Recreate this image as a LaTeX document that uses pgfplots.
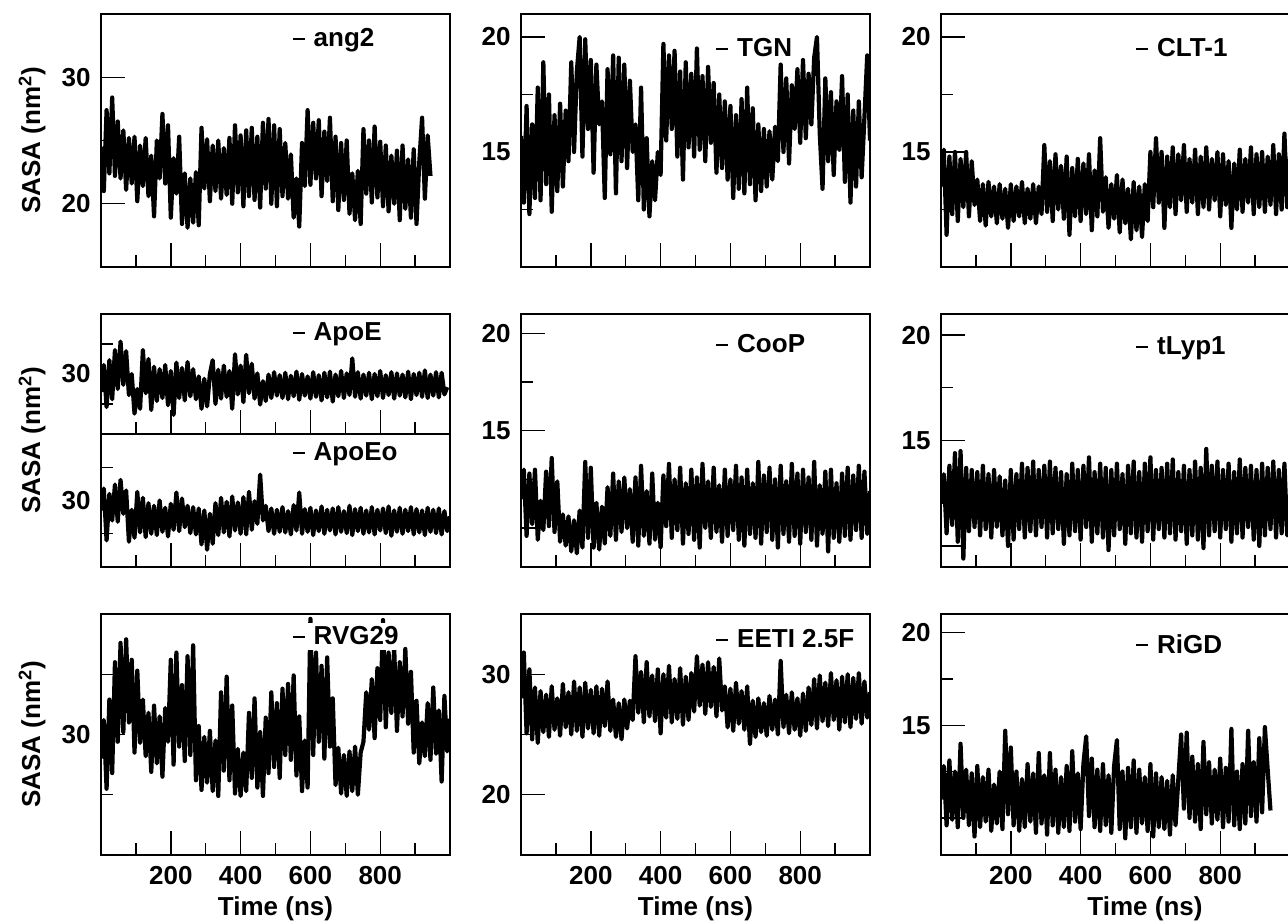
\documentclass[border=0pt]{standalone}
\usepackage{fontspec}
\setmainfont{Liberation Sans}
\usepackage{pgfplots}
\pgfplotsset{compat=1.18}

\newcommand{\lbl}{\bfseries\fontsize{13}{14}\selectfont}

\pgfplotsset{
  sasa/.style={
    scale only axis, width=174.5pt, anchor=north west,
    xmin=0, xmax=1000,
    xtick={200,400,600,800}, minor xtick={100,300,500,700,900},
    tick pos=left, tick align=inside,
    major tick length=12pt, minor tick length=6pt,
    every tick/.style={black, line width=0.7pt},
    axis line style={line width=1pt},
    /pgf/number format/assume math mode=true,
    tick label style={font=\lbl},
    yticklabel style={xshift=-1.7pt},
    xticklabel style={yshift=-2pt},
    legend style={anchor=west, draw=none, fill=white, font=\lbl,
      inner xsep=0pt, inner ysep=0pt, nodes={inner sep=1.5pt}},
    legend image code/.code={\draw[line width=1pt] (0pt,0pt) -- (6pt,0pt); \path (8pt,0pt);},
  },
  trace/.style={black, line width=2.1pt, line join=round, mark=none},
}

\begin{document}
\begin{tikzpicture}
\useasboundingbox (0pt,0pt) rectangle (644pt,-462pt);

% ---- top row ----
\begin{axis}[sasa, at={(50.5pt,-7pt)}, height=126.5pt, xticklabels={},
  ymin=15, ymax=35, ytick={20,30}, minor ytick={25},
  legend style={at={(0.545,0.90)}}]
\addplot[trace] coordinates {(0,24.5)(8,21.0)(16,27.4)(24,22.4)(32,28.4)(40,22.2)(48,26.5)(56,22.0)(64,25.8)(72,21.1)(80,25.2)(88,21.6)(96,25.3)(104,20.2)(112,24.6)(120,21.4)(128,25.2)(136,20.6)(144,23.8)(152,19.0)(160,25.0)(168,22.0)(176,27.1)(184,21.6)(192,26.2)(200,18.9)(208,23.6)(216,20.8)(224,25.3)(232,18.4)(240,22.4)(248,18.1)(256,22.0)(264,18.5)(272,22.5)(280,18.3)(288,26.0)(296,21.2)(304,25.1)(312,20.2)(320,24.6)(328,21.0)(336,25.0)(344,20.4)(352,24.4)(360,20.7)(368,25.2)(376,20.0)(384,26.2)(392,20.9)(400,25.4)(408,19.8)(416,25.8)(424,20.6)(432,26.0)(440,20.3)(448,25.3)(456,19.7)(464,26.4)(472,21.2)(480,26.7)(488,20.0)(496,26.2)(504,19.8)(512,25.9)(520,20.6)(528,24.8)(536,20.4)(544,23.9)(552,18.9)(560,22.0)(568,18.2)(576,24.8)(584,21.4)(592,27.4)(600,21.5)(608,26.4)(616,22.0)(624,26.6)(632,20.6)(640,25.7)(648,21.8)(656,26.8)(664,20.2)(672,25.3)(680,19.5)(688,24.8)(696,20.3)(704,25.0)(712,19.2)(720,22.4)(728,18.7)(736,22.6)(744,18.4)(752,25.9)(760,20.8)(768,25.0)(776,20.1)(784,26.1)(792,20.5)(800,24.9)(808,19.8)(816,24.6)(824,19.4)(832,23.8)(840,20.0)(848,24.2)(856,18.7)(864,24.6)(872,19.6)(880,23.5)(888,18.9)(896,24.3)(904,18.4)(912,23.3)(920,26.8)(928,20.4)(936,25.4)(944,22.2)};
\addlegendentry{ang2}
\end{axis}

\begin{axis}[sasa, at={(260.5pt,-7pt)}, height=126.5pt, xticklabels={},
  ymin=10, ymax=21, ytick={10,15,20}, yticklabels={,15,20}, minor ytick={12.5,17.5},
  legend style={at={(0.555,0.862)}}]
\addplot[trace] coordinates {(0,15.7)(8,12.8)(16,17.0)(24,12.3)(32,16.2)(40,13.0)(48,17.8)(56,12.9)(64,18.9)(72,13.6)(80,17.5)(88,12.4)(96,16.6)(104,13.3)(112,17.1)(120,13.5)(128,16.8)(136,14.6)(144,18.9)(152,15.0)(160,18.5)(168,20.0)(176,14.8)(184,19.9)(192,16.0)(200,19.0)(208,14.1)(216,18.8)(224,16.2)(232,17.2)(240,13.0)(248,18.6)(256,14.9)(264,19.2)(272,13.2)(280,19.1)(288,14.6)(296,18.8)(304,14.3)(312,18.1)(320,15.0)(328,16.2)(336,12.9)(344,17.8)(352,12.5)(360,15.6)(368,12.2)(376,14.6)(384,12.9)(392,15.0)(400,14.0)(408,19.7)(416,15.5)(424,19.2)(432,16.0)(440,19.4)(448,14.8)(456,18.5)(464,13.8)(472,18.9)(480,15.2)(488,18.4)(496,14.8)(504,19.5)(512,15.1)(520,18.3)(528,14.6)(536,18.7)(544,15.4)(552,18.0)(560,14.1)(568,17.5)(576,14.3)(584,17.2)(592,13.8)(600,17.0)(608,13.0)(616,16.6)(624,13.4)(632,17.3)(640,13.2)(648,17.8)(656,13.6)(664,16.9)(672,12.9)(680,16.2)(688,13.3)(696,16.0)(704,13.5)(712,15.9)(720,13.8)(728,16.1)(736,14.6)(744,18.8)(752,15.0)(760,18.2)(768,14.5)(776,17.9)(784,16.0)(792,18.6)(800,15.4)(808,19.0)(816,15.6)(824,18.4)(832,16.2)(840,19.1)(848,20.0)(856,15.8)(864,13.4)(872,18.2)(880,14.6)(888,17.6)(896,14.0)(904,17.2)(912,15.1)(920,18.3)(928,13.7)(936,17.5)(944,12.8)(952,16.8)(960,13.5)(968,17.2)(976,13.9)(984,16.5)(992,19.2)(1000,15.5)};
\addlegendentry{TGN}
\end{axis}

\begin{axis}[sasa, at={(470.5pt,-7pt)}, height=126.5pt, xticklabels={},
  ymin=10, ymax=21, ytick={10,15,20}, yticklabels={,15,20}, minor ytick={12.5,17.5},
  legend style={at={(0.555,0.862)}}]
\addplot[trace] coordinates {(0,13.5)(8,15.1)(16,11.4)(24,14.8)(32,12.3)(40,15.0)(48,12.0)(56,14.7)(64,12.6)(72,15.0)(80,12.2)(88,14.6)(96,12.7)(104,13.8)(112,12.0)(120,13.6)(128,11.8)(136,13.7)(144,12.2)(152,13.5)(160,11.9)(168,13.6)(176,12.1)(184,13.4)(192,11.7)(200,13.6)(208,12.0)(216,13.5)(224,12.2)(232,13.7)(240,11.9)(248,13.4)(256,12.1)(264,13.6)(272,11.9)(280,13.5)(288,12.3)(296,15.3)(304,12.4)(312,14.6)(320,12.0)(328,14.9)(336,12.5)(344,14.4)(352,12.1)(360,14.8)(368,11.4)(376,14.3)(384,12.2)(392,14.7)(400,12.0)(408,14.5)(416,12.3)(424,14.9)(432,11.6)(440,14.2)(448,12.2)(456,15.6)(464,12.4)(472,13.9)(480,11.7)(488,13.6)(496,12.1)(504,14.0)(512,11.5)(520,13.8)(528,11.9)(536,13.4)(544,11.2)(552,13.7)(560,11.6)(568,13.5)(576,11.3)(584,13.6)(592,12.0)(600,15.0)(608,12.6)(616,15.6)(624,12.8)(632,15.0)(640,11.7)(648,14.8)(656,12.6)(664,15.2)(672,12.3)(680,14.9)(688,12.9)(696,15.3)(704,12.4)(712,14.7)(720,12.8)(728,15.1)(736,12.3)(744,14.8)(752,12.6)(760,15.2)(768,12.5)(776,14.7)(784,12.9)(792,15.0)(800,12.2)(808,14.9)(816,12.7)(824,14.6)(832,11.7)(840,14.5)(848,12.5)(856,15.1)(864,12.4)(872,14.7)(880,12.8)(888,15.2)(896,12.3)(904,14.9)(912,12.6)(920,15.0)(928,12.4)(936,14.8)(944,12.7)(952,15.3)(960,12.3)(968,14.9)(976,12.5)(984,15.8)(992,12.6)(1000,14.8)};
\addlegendentry{CLT-1}
\end{axis}

% ---- middle row ----
\begin{axis}[sasa, at={(50.5pt,-157pt)}, height=60pt, xticklabels={},
  ymin=20, ymax=40, ytick={30}, minor ytick={25,35},
  legend style={at={(0.545,0.842)}}]
\addplot[trace] coordinates {(0,27.0)(8,31.5)(16,24.5)(24,32.3)(32,25.8)(40,34.0)(48,27.5)(56,35.4)(64,28.2)(72,33.8)(80,26.5)(88,30.0)(96,23.4)(104,27.5)(112,24.2)(120,34.0)(128,26.8)(136,32.5)(144,24.0)(152,31.2)(160,25.5)(168,30.8)(176,26.0)(184,31.5)(192,24.8)(200,30.5)(208,23.2)(216,31.9)(224,26.0)(232,31.0)(240,25.6)(248,32.0)(256,26.3)(264,30.8)(272,25.8)(280,29.6)(288,24.2)(296,29.2)(304,24.6)(312,30.0)(320,32.3)(328,25.0)(336,30.7)(344,25.9)(352,31.4)(360,26.2)(368,30.5)(376,24.2)(384,33.3)(392,26.6)(400,31.4)(408,25.3)(416,33.2)(424,26.8)(432,31.7)(440,25.9)(448,30.1)(456,24.9)(464,28.8)(472,25.5)(480,29.9)(488,26.0)(496,30.3)(504,26.4)(512,29.8)(520,26.0)(528,30.2)(536,25.8)(544,29.7)(552,26.3)(560,30.4)(568,25.7)(576,30.0)(584,26.4)(592,29.6)(600,25.9)(608,30.3)(616,26.2)(624,29.8)(632,25.6)(640,30.2)(648,26.1)(656,30.4)(664,25.4)(672,29.9)(680,26.3)(688,30.5)(696,26.0)(704,30.1)(712,26.5)(720,32.6)(728,26.2)(736,30.3)(744,25.9)(752,29.9)(760,26.4)(768,30.2)(776,25.8)(784,30.0)(792,26.3)(800,30.5)(808,26.0)(816,29.8)(824,26.5)(832,30.3)(840,25.9)(848,30.1)(856,26.4)(864,29.9)(872,26.1)(880,30.4)(888,25.8)(896,30.0)(904,26.5)(912,30.2)(920,26.2)(928,30.6)(936,26.0)(944,29.9)(952,26.4)(960,30.3)(968,26.1)(976,30.2)(984,26.6)(992,27.8)};
\addlegendentry{ApoE}
\end{axis}

\begin{axis}[sasa, at={(50.5pt,-217pt)}, height=66.5pt, xticklabels={},
  ymin=20, ymax=40, ytick={30}, minor ytick={25,35},
  legend style={at={(0.545,0.857)}}]
\addplot[trace] coordinates {(0,28.5)(8,31.8)(16,24.0)(24,31.0)(32,27.0)(40,32.4)(48,26.8)(56,33.1)(64,28.0)(72,31.5)(80,23.8)(88,28.6)(96,24.4)(104,31.3)(112,25.2)(120,30.4)(128,24.5)(136,29.6)(144,25.0)(152,29.2)(160,24.8)(168,30.0)(176,25.3)(184,28.9)(192,24.6)(200,29.5)(208,25.6)(216,31.2)(224,25.4)(232,30.3)(240,26.0)(248,29.2)(256,25.1)(264,29.0)(272,24.9)(280,28.8)(288,23.4)(296,28.5)(304,22.6)(312,28.0)(320,23.5)(328,29.6)(336,24.8)(344,30.4)(352,25.2)(360,29.8)(368,24.6)(376,30.6)(384,25.5)(392,29.7)(400,25.0)(408,30.5)(416,24.9)(424,31.3)(432,25.6)(440,29.9)(448,26.5)(456,33.9)(464,27.0)(472,29.2)(480,25.4)(488,28.8)(496,25.0)(504,28.6)(512,25.3)(520,29.0)(528,25.2)(536,28.4)(544,24.9)(552,29.3)(560,25.5)(568,31.2)(576,25.0)(584,28.7)(592,25.3)(600,28.9)(608,24.8)(616,28.5)(624,25.4)(632,29.1)(640,25.0)(648,28.6)(656,25.5)(664,28.8)(672,24.9)(680,29.0)(688,25.3)(696,28.4)(704,25.1)(712,29.2)(720,24.8)(728,28.7)(736,25.4)(744,28.9)(752,25.0)(760,28.5)(768,25.2)(776,29.0)(784,24.9)(792,28.6)(800,25.5)(808,28.8)(816,25.1)(824,29.1)(832,24.7)(840,28.5)(848,25.3)(856,28.9)(864,25.0)(872,28.6)(880,25.4)(888,29.0)(896,24.9)(904,28.7)(912,25.2)(920,28.5)(928,24.8)(936,28.9)(944,25.3)(952,28.6)(960,25.1)(968,28.8)(976,24.9)(984,28.4)(992,25.4)(1000,27.6)};
\addlegendentry{ApoEo}
\end{axis}

\begin{axis}[sasa, at={(260.5pt,-157pt)}, height=126.5pt, xticklabels={},
  ymin=8, ymax=21, ytick={10,15,20}, yticklabels={,15,20}, minor ytick={12.5,17.5},
  legend style={at={(0.555,0.877)}}]
\addplot[trace] coordinates {(0,11.5)(8,13.0)(16,9.6)(24,12.8)(32,10.2)(40,13.0)(48,9.4)(56,11.4)(64,9.9)(72,12.9)(80,10.1)(88,13.6)(96,9.8)(104,12.4)(112,9.3)(120,10.7)(128,9.1)(136,10.6)(144,8.8)(152,10.4)(160,8.7)(168,10.9)(176,9.0)(184,13.4)(192,9.5)(200,13.1)(208,9.0)(216,11.3)(224,8.9)(232,11.1)(240,9.2)(248,12.1)(256,9.6)(264,12.8)(272,9.4)(280,12.4)(288,9.8)(296,12.6)(304,10.0)(312,12.0)(320,9.3)(328,12.6)(336,9.1)(344,13.2)(352,9.6)(360,11.9)(368,9.2)(376,12.8)(384,9.4)(392,11.3)(400,9.0)(408,12.7)(416,10.1)(424,13.3)(432,9.5)(440,12.5)(448,9.9)(456,13.1)(464,9.2)(472,12.3)(480,9.7)(488,13.0)(496,9.4)(504,12.6)(512,9.0)(520,13.3)(528,10.0)(536,12.4)(544,9.5)(552,13.1)(560,9.8)(568,12.2)(576,9.3)(584,13.0)(592,9.6)(600,12.5)(608,9.9)(616,13.2)(624,9.4)(632,12.6)(640,9.1)(648,13.0)(656,9.7)(664,12.3)(672,9.5)(680,13.4)(688,9.2)(696,12.7)(704,9.8)(712,13.1)(720,9.4)(728,12.5)(736,9.0)(744,13.2)(752,9.7)(760,12.4)(768,9.3)(776,13.3)(784,9.6)(792,12.8)(800,9.2)(808,13.0)(816,9.8)(824,12.6)(832,9.4)(840,13.4)(848,9.1)(856,12.2)(864,9.7)(872,12.9)(880,8.8)(888,13.0)(896,9.5)(904,12.3)(912,9.3)(920,12.8)(928,9.6)(936,13.1)(944,9.4)(952,12.7)(960,9.9)(968,13.2)(976,9.5)(984,12.9)(992,9.7)(1000,11.9)};
\addlegendentry{CooP}
\end{axis}

\begin{axis}[sasa, at={(470.5pt,-157pt)}, height=126.5pt, xticklabels={},
  ymin=9, ymax=21, ytick={10,15,20}, yticklabels={,15,20}, minor ytick={12.5,17.5},
  legend style={at={(0.555,0.870)}}]
\addplot[trace] coordinates {(0,12.0)(8,13.4)(16,10.6)(24,13.8)(32,11.0)(40,14.4)(48,10.2)(56,14.5)(64,9.4)(72,13.7)(80,10.7)(88,13.6)(96,10.9)(104,13.5)(112,10.5)(120,13.8)(128,10.8)(136,13.4)(144,10.4)(152,13.6)(160,10.9)(168,13.3)(176,10.5)(184,13.1)(192,10.0)(200,13.6)(208,10.3)(216,13.4)(224,10.8)(232,13.9)(240,10.4)(248,13.7)(256,10.7)(264,14.0)(272,10.5)(280,13.6)(288,10.9)(296,13.8)(304,10.4)(312,14.0)(320,10.6)(328,13.7)(336,10.8)(344,13.5)(352,10.1)(360,13.4)(368,10.5)(376,13.9)(384,10.7)(392,13.6)(400,10.3)(408,13.8)(416,10.9)(424,14.2)(432,10.2)(440,13.5)(448,10.6)(456,13.9)(464,10.4)(472,13.7)(480,9.8)(488,13.6)(496,10.5)(504,13.9)(512,10.8)(520,13.4)(528,10.1)(536,13.8)(544,10.6)(552,14.0)(560,10.4)(568,13.5)(576,10.2)(584,13.9)(592,10.7)(600,14.2)(608,10.3)(616,13.6)(624,10.8)(632,13.7)(640,10.4)(648,13.9)(656,10.6)(664,14.1)(672,10.3)(680,13.5)(688,10.7)(696,13.8)(704,10.1)(712,13.6)(720,10.5)(728,14.0)(736,10.3)(744,13.7)(752,9.9)(760,14.6)(768,10.5)(776,13.8)(784,10.7)(792,14.0)(800,10.4)(808,13.6)(816,10.8)(824,13.9)(832,10.2)(840,13.5)(848,10.6)(856,14.1)(864,10.4)(872,13.7)(880,10.9)(888,13.8)(896,10.3)(904,13.6)(912,10.0)(920,13.9)(928,10.5)(936,13.7)(944,10.8)(952,14.0)(960,10.4)(968,13.6)(976,10.6)(984,13.9)(992,10.5)(1000,12.4)};
\addlegendentry{tLyp1}
\end{axis}

% ---- bottom row ----
\begin{axis}[sasa, at={(50.5pt,-307pt)}, height=120.5pt,
  ymin=20, ymax=40, ytick={30}, minor ytick={25,35},
  legend style={at={(0.545,0.905)}}]
\addplot[trace] coordinates {(0,28.0)(8,31.2)(16,25.5)(24,32.9)(32,26.8)(40,36.0)(48,29.4)(56,37.6)(64,30.2)(72,37.9)(80,31.0)(88,36.2)(96,28.5)(104,35.3)(112,29.3)(120,32.9)(128,28.2)(136,31.8)(144,26.9)(152,32.4)(160,27.6)(168,31.5)(176,26.5)(184,32.2)(192,29.4)(200,36.2)(208,27.5)(216,36.8)(224,29.0)(232,34.1)(240,27.8)(248,36.5)(256,28.3)(264,37.4)(272,26.2)(280,30.7)(288,25.4)(296,29.8)(304,26.0)(312,30.3)(320,25.3)(328,29.5)(336,24.9)(344,33.5)(352,27.0)(360,34.8)(368,26.2)(376,32.4)(384,25.1)(392,28.8)(400,24.9)(408,28.5)(416,25.3)(424,31.8)(432,26.4)(440,33.0)(448,25.6)(456,30.2)(464,24.9)(472,31.4)(480,26.8)(488,33.5)(496,27.3)(504,32.6)(512,26.4)(520,33.8)(528,28.3)(536,34.2)(544,27.9)(552,34.9)(560,26.6)(568,31.5)(576,25.3)(584,29.5)(592,25.6)(600,39.6)(608,28.3)(616,36.8)(624,29.4)(632,35.7)(640,28.0)(648,36.4)(656,29.0)(664,33.0)(672,25.8)(680,28.9)(688,25.1)(696,28.3)(704,24.9)(712,28.6)(720,25.3)(728,29.0)(736,25.0)(744,28.5)(752,29.4)(760,33.5)(768,30.4)(776,34.6)(784,29.7)(792,35.5)(800,31.2)(808,39.5)(816,30.6)(824,36.8)(832,31.8)(840,37.2)(848,30.3)(856,36.0)(864,31.5)(872,37.1)(880,30.9)(888,35.2)(896,28.5)(904,32.8)(912,27.6)(920,31.0)(928,28.2)(936,32.6)(944,27.9)(952,33.9)(960,28.4)(968,32.0)(976,26.1)(984,33.2)(992,28.6)(1000,31.3)};
\addlegendentry{RVG29}
\end{axis}

\begin{axis}[sasa, at={(260.5pt,-307pt)}, height=120.5pt,
  ymin=15, ymax=35, ytick={20,30}, minor ytick={25},
  legend style={at={(0.555,0.892)}}]
\addplot[trace] coordinates {(0,28.0)(8,31.8)(16,25.1)(24,30.4)(32,24.6)(40,28.9)(48,24.3)(56,28.6)(64,25.2)(72,28.3)(80,24.8)(88,29.0)(96,25.4)(104,28.0)(112,24.9)(120,29.2)(128,25.6)(136,28.5)(144,25.0)(152,29.4)(160,25.3)(168,28.9)(176,24.8)(184,29.3)(192,25.5)(200,28.7)(208,25.1)(216,29.0)(224,24.9)(232,28.8)(240,25.7)(248,29.4)(256,25.3)(264,27.9)(272,24.8)(280,27.6)(288,24.6)(296,27.9)(304,25.5)(312,27.8)(320,26.2)(328,31.5)(336,26.8)(344,30.2)(352,26.0)(360,31.0)(368,26.5)(376,29.9)(384,26.1)(392,30.4)(400,25.1)(408,30.0)(416,26.4)(424,30.7)(432,26.0)(440,29.6)(448,26.3)(456,30.5)(464,25.8)(472,29.8)(480,26.2)(488,30.1)(496,26.9)(504,31.5)(512,27.4)(520,30.8)(528,26.7)(536,31.0)(544,27.3)(552,30.6)(560,26.5)(568,31.3)(576,27.0)(584,29.0)(592,25.6)(600,28.8)(608,25.3)(616,29.3)(624,25.9)(632,28.6)(640,25.4)(648,29.0)(656,24.2)(664,27.8)(672,24.8)(680,28.0)(688,25.2)(696,27.6)(704,24.9)(712,28.2)(720,25.4)(728,27.9)(736,25.0)(744,31.1)(752,25.6)(760,28.3)(768,25.1)(776,28.5)(784,25.4)(792,28.0)(800,24.9)(808,28.4)(816,25.3)(824,28.9)(832,25.8)(840,29.6)(848,25.5)(856,29.9)(864,26.1)(872,29.3)(880,25.7)(888,30.1)(896,26.2)(904,29.5)(912,25.4)(920,29.8)(928,26.0)(936,30.0)(944,25.6)(952,29.7)(960,26.3)(968,30.1)(976,25.9)(984,29.4)(992,26.4)(1000,28.5)};
\addlegendentry{EETI 2.5F}
\end{axis}

\begin{axis}[sasa, at={(470.5pt,-307pt)}, height=120.5pt,
  ymin=8, ymax=21, ytick={10,15,20}, yticklabels={,15,20}, minor ytick={12.5,17.5},
  legend style={at={(0.555,0.871)}}]
\addplot[trace] coordinates {(0,11.0)(8,12.8)(16,9.6)(24,13.1)(32,9.9)(40,12.5)(48,9.5)(56,14.0)(64,10.0)(72,12.6)(80,9.6)(88,12.4)(96,9.0)(104,12.8)(112,9.5)(120,12.2)(128,9.8)(136,12.6)(144,9.3)(152,11.8)(160,9.7)(168,12.5)(176,9.4)(184,14.7)(192,10.2)(200,13.8)(208,9.6)(216,12.5)(224,9.3)(232,12.1)(240,9.5)(248,12.9)(256,9.8)(264,12.4)(272,9.2)(280,13.5)(288,9.7)(296,12.3)(304,9.1)(312,13.5)(320,9.6)(328,12.6)(336,9.2)(344,12.2)(352,9.5)(360,12.8)(368,9.3)(376,13.6)(384,9.8)(392,12.4)(400,9.4)(408,12.9)(416,14.4)(424,10.1)(432,13.2)(440,9.5)(448,12.6)(456,9.3)(464,12.9)(472,9.6)(480,12.3)(488,9.2)(496,12.8)(504,14.2)(512,9.4)(520,12.5)(528,8.9)(536,12.7)(544,9.5)(552,13.1)(560,9.2)(568,12.6)(576,9.7)(584,12.2)(592,9.3)(600,12.9)(608,9.0)(616,12.4)(624,9.5)(632,12.2)(640,9.4)(648,12.0)(656,9.1)(664,12.3)(672,9.6)(680,12.1)(688,14.5)(696,10.5)(704,14.6)(712,10.0)(720,13.3)(728,9.8)(736,12.9)(744,9.4)(752,14.1)(760,10.2)(768,13.0)(776,9.7)(784,12.6)(792,9.9)(800,13.2)(808,9.5)(816,12.7)(824,9.8)(832,14.8)(840,9.6)(848,12.5)(856,9.4)(864,12.9)(872,9.7)(880,14.7)(888,10.1)(896,13.0)(904,9.8)(912,14.3)(920,10.3)(928,14.9)(936,12.6)(944,10.4)};
\addlegendentry{RiGD}
\end{axis}

% axis titles
\node[rotate=90, font=\lbl] at (16pt,-70.25pt) {SASA (nm\textsuperscript{2})};
\node[rotate=90, font=\lbl] at (16pt,-220.25pt) {SASA (nm\textsuperscript{2})};
\node[rotate=90, font=\lbl] at (16pt,-367.25pt) {SASA (nm\textsuperscript{2})};
\node[font=\lbl] at (137.75pt,-454.5pt) {Time (ns)};
\node[font=\lbl] at (347.75pt,-454.5pt) {Time (ns)};
\node[font=\lbl] at (572.5pt,-454.5pt) {Time (ns)};
\end{tikzpicture}
\end{document}
